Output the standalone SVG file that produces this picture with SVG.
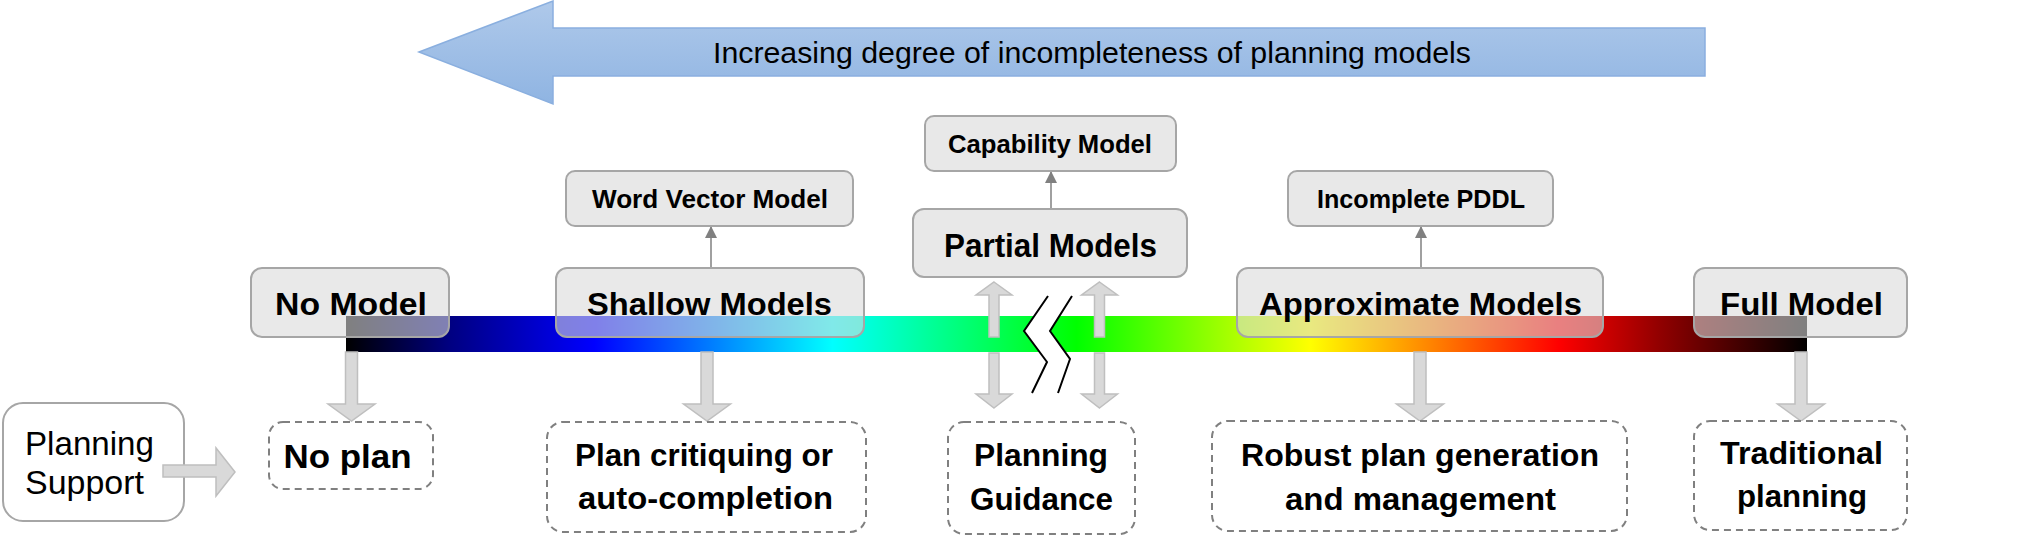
<svg xmlns="http://www.w3.org/2000/svg" width="2022" height="546" viewBox="0 0 2022 546">
<defs>
<linearGradient id="spec" x1="346" y1="0" x2="1807" y2="0" gradientUnits="userSpaceOnUse">
<stop offset="0" stop-color="#000000"/>
<stop offset="0.07" stop-color="#000080"/>
<stop offset="0.17" stop-color="#0000ff"/>
<stop offset="0.333" stop-color="#00ffff"/>
<stop offset="0.5" stop-color="#00ff00"/>
<stop offset="0.66" stop-color="#ffff00"/>
<stop offset="0.745" stop-color="#ff8000"/>
<stop offset="0.83" stop-color="#ff0000"/>
<stop offset="0.9" stop-color="#900000"/>
<stop offset="1" stop-color="#000000"/>
</linearGradient>
<linearGradient id="blue" x1="0" y1="0" x2="0" y2="1">
<stop offset="0" stop-color="#afc9ea"/>
<stop offset="1" stop-color="#8fb4e2"/>
</linearGradient>
<marker id="tri" viewBox="0 0 12 12" refX="11" refY="6" markerWidth="12" markerHeight="12" markerUnits="userSpaceOnUse" orient="auto">
<path d="M0,0 L12,6 L0,12 Z" fill="#808080"/>
</marker>
<style>
.t{font-family:"Liberation Sans",Arial,sans-serif;fill:#000;text-anchor:middle}
.s{text-anchor:start}
.b{font-weight:bold}
.model{fill:#d9d9d9;fill-opacity:0.59;stroke:#a6a6a6;stroke-width:2}
.sub{fill:#e8e8e8;stroke:#a6a6a6;stroke-width:2}
.out{fill:#fff;stroke:#808080;stroke-width:2;stroke-dasharray:7 5}
.blk{fill:#d9d9d9;stroke:#bfbfbf;stroke-width:1.5}
.thin{stroke:#808080;stroke-width:1.5;fill:none}
</style>
</defs>
<rect width="2022" height="546" fill="#fff"/>

<g id="direction-arrow">
<polygon points="419,52 553,1 553,28 1705,28 1705,76 553,76 553,104" fill="url(#blue)" stroke="#8aafdf" stroke-width="1.5"/>
<text class="t" x="1092" y="63" font-size="29" textLength="758" lengthAdjust="spacingAndGlyphs">Increasing degree of incompleteness of planning models</text>
</g>

<g id="spectrum-bar">
<rect x="346" y="316" width="1461" height="36" fill="url(#spec)"/>
</g>

<g id="break">
<polygon points="1048,296 1024,331 1047,362 1032,393 1058,393 1070,359 1050,331 1072,296" fill="#fff"/>
<polyline points="1048,296 1024,331 1047,362 1032,393" fill="none" stroke="#000" stroke-width="2"/>
<polyline points="1072,296 1050,331 1070,359 1058,393" fill="none" stroke="#000" stroke-width="2"/>
</g>

<g id="connectors">
<line class="thin" x1="711" y1="268" x2="711" y2="227" marker-end="url(#tri)"/>
<line class="thin" x1="1051" y1="208" x2="1051" y2="172" marker-end="url(#tri)"/>
<line class="thin" x1="1421" y1="268" x2="1421" y2="227" marker-end="url(#tri)"/>
<polygon class="blk" points="994,282 1012,295 999,295 999,337 989,337 989,295 976,295"/>
<polygon class="blk" points="994,408 1012,394 999,394 999,353 989,353 989,394 976,394"/>
<polygon class="blk" points="1099.5,282 1117.5,295 1104.5,295 1104.5,337 1094.5,337 1094.5,295 1081.5,295"/>
<polygon class="blk" points="1099.5,408 1117.5,394 1104.5,394 1104.5,353 1094.5,353 1094.5,394 1081.5,394"/>
<polygon class="blk" points="345.5,352 357.5,352 357.5,404 375,404 351.5,421 328,404 345.5,404"/>
<polygon class="blk" points="701,352 713,352 713,404 730.5,404 707,421 683.5,404 701,404"/>
<polygon class="blk" points="1414,352 1426,352 1426,404 1443.5,404 1420,421 1396.5,404 1414,404"/>
<polygon class="blk" points="1795,352 1807,352 1807,404 1824.5,404 1801,421 1777.5,404 1795,404"/>
</g>

<g id="no-model">
<rect class="model" x="251" y="268" width="198" height="69" rx="11"/>
<text class="t b" x="351" y="315" font-size="32" textLength="152" lengthAdjust="spacingAndGlyphs">No Model</text>
</g>
<g id="shallow-models">
<rect class="model" x="556" y="268" width="308" height="69" rx="11"/>
<text class="t b" x="709.5" y="315" font-size="32" textLength="245" lengthAdjust="spacingAndGlyphs">Shallow Models</text>
</g>
<g id="approximate-models">
<rect class="model" x="1237" y="268" width="366" height="69" rx="11"/>
<text class="t b" x="1420.5" y="315" font-size="32" textLength="323" lengthAdjust="spacingAndGlyphs">Approximate Models</text>
</g>
<g id="full-model">
<rect class="model" x="1694" y="268" width="213" height="69" rx="11"/>
<text class="t b" x="1801.5" y="315" font-size="32" textLength="163" lengthAdjust="spacingAndGlyphs">Full Model</text>
</g>
<g id="partial-models">
<rect class="sub" x="913" y="209" width="274" height="68" rx="11"/>
<text class="t b" x="1050.5" y="257" font-size="34" textLength="213" lengthAdjust="spacingAndGlyphs">Partial Models</text>
</g>
<g id="word-vector-model">
<rect class="sub" x="566" y="171" width="287" height="55" rx="9"/>
<text class="t b" x="710" y="208" font-size="25" textLength="236" lengthAdjust="spacingAndGlyphs">Word Vector Model</text>
</g>
<g id="capability-model">
<rect class="sub" x="925" y="116" width="251" height="55" rx="9"/>
<text class="t b" x="1050" y="153" font-size="25" textLength="204" lengthAdjust="spacingAndGlyphs">Capability Model</text>
</g>
<g id="incomplete-pddl">
<rect class="sub" x="1288" y="171" width="265" height="55" rx="9"/>
<text class="t b" x="1421" y="208" font-size="25" textLength="208" lengthAdjust="spacingAndGlyphs">Incomplete PDDL</text>
</g>

<g id="planning-support">
<rect x="3" y="403" width="181" height="118" rx="20" fill="#fff" stroke="#a6a6a6" stroke-width="2"/>
<text class="t s" x="25" y="455" font-size="33" textLength="129" lengthAdjust="spacingAndGlyphs">Planning</text>
<text class="t s" x="25" y="494" font-size="33" textLength="119" lengthAdjust="spacingAndGlyphs">Support</text>
</g>
<g id="support-arrow">
<polygon class="blk" points="163,465 216,465 216,448 235,472 216,496 216,477 163,477"/>
</g>

<g id="no-plan">
<rect class="out" x="269" y="422" width="164" height="67" rx="14"/>
<text class="t b" x="347.5" y="468" font-size="33" textLength="128" lengthAdjust="spacingAndGlyphs">No plan</text>
</g>
<g id="plan-critiquing">
<rect class="out" x="547" y="422" width="319" height="110" rx="16"/>
<text class="t b" x="704" y="466" font-size="32" textLength="258" lengthAdjust="spacingAndGlyphs">Plan critiquing or</text>
<text class="t b" x="705.5" y="509" font-size="32" textLength="255" lengthAdjust="spacingAndGlyphs">auto-completion</text>
</g>
<g id="planning-guidance">
<rect class="out" x="948" y="422" width="187" height="112" rx="16"/>
<text class="t b" x="1041" y="466" font-size="32" textLength="134" lengthAdjust="spacingAndGlyphs">Planning</text>
<text class="t b" x="1041.5" y="510" font-size="32" textLength="143" lengthAdjust="spacingAndGlyphs">Guidance</text>
</g>
<g id="robust-plan">
<rect class="out" x="1212" y="421" width="415" height="110" rx="16"/>
<text class="t b" x="1420" y="466" font-size="32" textLength="358" lengthAdjust="spacingAndGlyphs">Robust plan generation</text>
<text class="t b" x="1420.5" y="510" font-size="32" textLength="271" lengthAdjust="spacingAndGlyphs">and management</text>
</g>
<g id="traditional-planning">
<rect class="out" x="1694" y="421" width="213" height="109" rx="16"/>
<text class="t b" x="1801.5" y="464" font-size="32" textLength="163" lengthAdjust="spacingAndGlyphs">Traditional</text>
<text class="t b" x="1802" y="507" font-size="32" textLength="130" lengthAdjust="spacingAndGlyphs">planning</text>
</g>
</svg>
